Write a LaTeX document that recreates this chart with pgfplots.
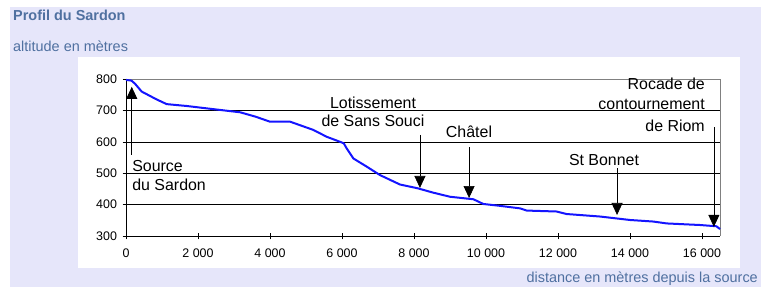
\documentclass[border=0pt]{standalone}
\usepackage{fontspec}
\setmainfont{Liberation Sans}
\usepackage{pgfplots}
\pgfplotsset{compat=1.18}
\usetikzlibrary{arrows.meta}
\definecolor{bgl}{RGB}{230,230,250}
\definecolor{lbl}{RGB}{79,112,160}
\definecolor{plotblue}{RGB}{20,20,255}
\begin{document}
\begin{tikzpicture}
\useasboundingbox (0bp,0bp) rectangle (761bp,289bp);
\fill[bgl] (10bp,2bp) rectangle (761bp,282bp);
\fill[white] (78bp,21bp) rectangle (740bp,232bp);
\node[anchor=base west, font=\fontsize{14.5}{16}\selectfont\bfseries, text=lbl, inner sep=0] at (13bp,268bp) {Profil du Sardon};
\node[anchor=base west, font=\fontsize{14.5}{16}\selectfont, text=lbl, inner sep=0] at (13bp,237bp) {altitude en mètres};
\node[anchor=base east, font=\fontsize{14.5}{16}\selectfont, text=lbl, inner sep=0] at (758bp,7bp) {distance en mètres depuis la source};
\begin{axis}[
  at={(126bp,53bp)}, anchor=south west,
  scale only axis, width=594bp, height=157bp,
  xmin=0, xmax=16500, ymin=300, ymax=800,
  xtick={0,2000,...,16000}, ytick={300,400,...,800},
  scaled ticks=false,
  xtick pos=left, ytick pos=left,
  tick align=center, major tick length=7bp,
  tick style={black, line width=0.6bp},
  axis line style={draw=none},
  /pgf/number format/assume math mode=true,
  /pgf/number format/1000 sep={\ },
  ticklabel style={font=\fontsize{12.5}{14}\selectfont},
  xticklabel style={yshift=-6bp},
  yticklabel style={xshift=-2bp},
  clip=false,
]
\draw[black, line width=0.6bp] (axis cs:0,400) -- (axis cs:16500,400);
\draw[black, line width=0.6bp] (axis cs:0,500) -- (axis cs:16500,500);
\draw[black, line width=0.6bp] (axis cs:0,600) -- (axis cs:16500,600);
\draw[black, line width=0.6bp] (axis cs:0,700) -- (axis cs:16500,700);
\draw[gray, line width=0.6bp] (axis cs:0,800) -- (axis cs:16500,800) -- (axis cs:16500,300);
\draw[black, line width=0.8bp] (axis cs:0,800) -- (axis cs:0,300) -- (axis cs:16500,300);
\addplot[plotblue, line width=2bp, mark=none] coordinates {
(0,797) (150,795) (250,785) (435,760) (850,735) (1130,720) (1690,714)
(2425,704) (3170,694) (3600,680) (4000,664) (4560,664) (5200,638)
(5575,616) (5945,600) (6050,595) (6130,579) (6315,547) (6685,521)
(7055,494) (7610,464) (8100,452) (8535,438) (9000,425) (9650,417)
(9925,402) (10390,396) (10945,388) (11130,381) (11960,378) (12240,370)
(13170,362) (14000,351) (14650,346) (15020,340) (15945,335) (16400,331)
(16500,322)
};
\tikzset{arr/.style={black, line width=0.7bp, -{Triangle[width=11bp,length=12bp]}}}
\draw[arr] (axis cs:160,558) -- (axis cs:160,775);
\draw[arr] (axis cs:8165,622) -- (axis cs:8165,453);
\draw[arr] (axis cs:9530,583) -- (axis cs:9530,421);
\draw[arr] (axis cs:13640,516) -- (axis cs:13640,367);
\draw[arr] (axis cs:16330,647) -- (axis cs:16330,329);
\tikzset{ann/.style={font=\fontsize{16}{18}\selectfont, inner sep=0}}
\node[ann, anchor=base west] at (axis cs:170,504) {Source};
\node[ann, anchor=base west] at (axis cs:170,446) {du Sardon};
\node[ann, anchor=base] at (axis cs:6861,706) {Lotissement};
\node[ann, anchor=base] at (axis cs:6861,648) {de Sans Souci};
\node[ann, anchor=base] at (axis cs:9528,615) {Châtel};
\node[ann, anchor=base] at (axis cs:13278,526) {St Bonnet};
\node[ann, anchor=base east] at (axis cs:16083,765) {Rocade de};
\node[ann, anchor=base east] at (axis cs:16083,702) {contournement};
\node[ann, anchor=base east] at (axis cs:16083,634) {de Riom};
\end{axis}
\end{tikzpicture}
\end{document}
